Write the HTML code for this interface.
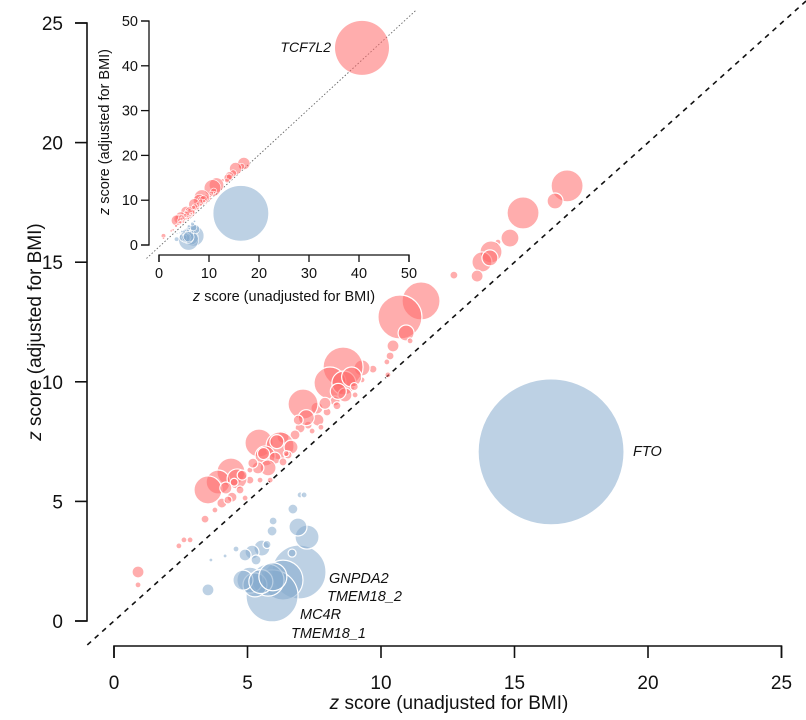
<!DOCTYPE html>
<html><head><meta charset="utf-8">
<style>
html,body{margin:0;padding:0;background:#fff;}
svg{display:block;font-family:"Liberation Sans",Arial,sans-serif;}
</style></head>
<body>
<svg id="chart" width="806" height="720" viewBox="0 0 806 720" xmlns="http://www.w3.org/2000/svg"></svg>
<script>
// ---- data ----
const redX = [16.97,16.52,15.32,14.83,14.38,14.12,13.78,14.08,13.60,12.73,11.50,10.71,10.94,11.09,10.45,10.34,10.22,9.70,9.29,8.58,8.09,8.61,8.65,8.28,7.60,7.08,7.98,7.64,7.27,7.42,6.97,6.78,6.33,5.43,6.22,6.63,5.66,6.03,5.77,5.39,6.33,6.52,5.09,5.47,4.38,3.90,3.52,4.61,4.19,4.72,4.42,4.04,4.27,3.78,3.41,2.62,2.85,2.43,0.90,0.90,5.09,4.91,5.85,9.03,9.29,10.26,8.90,8.40,7.90,7.20,6.90,6.10,5.60,5.20,4.80,4.50,6.45,7.75,8.35,9.00];
const redY = [18.19,17.56,17.06,16.01,15.84,15.43,15.01,15.18,14.42,14.46,13.38,12.71,12.04,11.71,11.50,11.08,10.83,10.53,10.58,10.62,9.95,9.95,9.45,9.20,8.90,9.07,8.74,8.40,8.19,7.94,8.07,7.78,7.69,7.44,7.32,7.27,6.90,6.81,6.40,6.40,6.65,6.94,5.89,5.89,6.23,5.81,5.48,5.94,5.56,5.48,5.18,4.93,5.06,4.64,4.26,3.39,3.39,3.14,2.05,1.51,6.31,5.14,5.89,9.45,10.08,10.29,10.20,9.60,9.10,8.50,8.40,7.50,7.00,6.60,6.10,5.80,7.00,8.10,9.00,9.80];
const redSize = [16,8,16,9,3,11,10,8,6,4,19,22,8,3,6,4,3,4,8,20,16,12,7,5,6,15,4,6,4,3,5,5,6,14,14,7,10,6,8,6,4,4,4,3,14,12,14,10,6,4,5,5,4,3,4,3,3,3,6,3,3,3,3,3,3,3,10,8,6,8,5,7,6,5,5,4,3,3,4,4];
const blueX = [16.37,6.93,6.33,5.92,5.77,5.09,5.28,4.83,3.52,7.23,6.89,6.70,6.97,7.12,5.92,5.96,5.54,5.17,4.91,5.32,5.73,4.57,4.16,3.63,6.67,5.50,5.95];
const blueY = [7.07,2.05,1.71,1.05,1.71,1.71,1.51,1.71,1.30,3.51,3.93,4.68,5.27,5.27,3.76,4.18,3.05,2.88,2.76,2.55,3.20,3.01,2.72,2.55,2.84,1.65,1.85];
const blueSize = [73,27,20,26,16,13,12,10,6,12,9,5,3,3,5,4,8,7,6,5,4,3,2,2,4,12,14];
const xTicks = [0,5,10,15,20,25];
const yTicks = [0,5,10,15,20,25];
const insetTicks = [0,10,20,30,40,50];
const tcfX = [40.6], tcfY = [44.0], tcfSize = [27];

// ---- scales ----
const X = v => 114 + v*26.7;
const Y = v => 621 - v*23.92;
const IX = v => 159 + v*5.0;
const IY = v => 245 - v*4.48;
const R = s => s;
const IR = s => s*0.38;

const svg = document.getElementById('chart');
const NS = 'http://www.w3.org/2000/svg';
function mk(tag, attrs, parent){
  const e = document.createElementNS(NS, tag);
  for (const k in attrs) e.setAttribute(k, attrs[k]);
  (parent||svg).appendChild(e); return e;
}
function txt(s, attrs, parent){ const t = mk('text', attrs, parent); t.textContent = s; return t; }

const RED = 'rgb(255,105,105)', BLUE = 'rgb(135,172,206)';

// dashed identity line
let dl = mk('line',{x1:X(-1),y1:Y(-1),x2:X(26),y2:Y(26),stroke:'#111','stroke-width':1.6,'stroke-dasharray':'5,5'});



// main bubbles
const gMain = mk('g',{});


for (let i=0;i<blueX.length;i++){
  const c = mk('circle',{cx:X(blueX[i]),cy:Y(blueY[i]),r:R(blueSize[i]),fill:BLUE,'fill-opacity':0.55,stroke:'#fff','stroke-width':1.2},gMain);
  
  
}
for (let i=0;i<redX.length;i++){
  const c = mk('circle',{cx:X(redX[i]),cy:Y(redY[i]),r:R(redSize[i]),fill:RED,'fill-opacity':0.55,stroke:'#fff','stroke-width':1.2},gMain);
  
  
}

// main axes
const ax = mk('g',{stroke:'#111','stroke-width':1.6,fill:'none'});


mk('path',{d:`M${X(0)},658 V646 H${X(25)} V658`},ax);
xTicks.forEach(t=>{ mk('line',{x1:X(t),y1:646,x2:X(t),y2:658},ax);
  const l = txt(String(t),{x:X(t),y:689,'font-size':19,'text-anchor':'middle',fill:'#111'});
  
  
});
mk('path',{d:`M75,${Y(25)} H87 V${Y(0)} H75`},ax);
yTicks.forEach(t=>{ mk('line',{x1:75,y1:Y(t),x2:87,y2:Y(t)},ax);
  const l = txt(String(t),{x:63,y:Y(t)+7,'font-size':19,'text-anchor':'end',fill:'#111'});
  
  
});
let xt = txt('',{x:449,y:709,'font-size':19,'text-anchor':'middle',fill:'#111'});
xt.innerHTML = '<tspan font-style="italic">z</tspan> score (unadjusted for BMI)';


let yt = txt('',{x:0,y:0,'font-size':19,'text-anchor':'middle',fill:'#111',transform:'translate(41,332) rotate(-90)'});
yt.innerHTML = '<tspan font-style="italic">z</tspan> score (adjusted for BMI)';



// labels
const labs = [['FTO',633,456],['GNPDA2',329,583],['TMEM18_2',327,601],['MC4R',300,619],['TMEM18_1',291,638]];
labs.forEach(l=>{ const t = txt(l[0],{x:l[1],y:l[2],'font-size':14.5,'font-style':'italic',fill:'#111'});
  
  
});

// ---- inset ----
const gi = mk('g',{});


let il = mk('line',{x1:IX(-2.5),y1:IY(-3),x2:IX(51.5),y2:IY(52.5),stroke:'#666','stroke-width':0.9,'stroke-dasharray':'1.5,2'},gi);


for (let i=0;i<blueX.length;i++){
  const c = mk('circle',{cx:IX(blueX[i]),cy:IY(blueY[i]),r:IR(blueSize[i]),fill:BLUE,'fill-opacity':0.55,stroke:'#fff','stroke-width':0.6},gi);
  
  
}
for (let i=0;i<redX.length;i++){
  const c = mk('circle',{cx:IX(redX[i]),cy:IY(redY[i]),r:IR(redSize[i]),fill:RED,'fill-opacity':0.55,stroke:'#fff','stroke-width':0.6},gi);
  
  
}
for (let i=0;i<tcfX.length;i++){
  const c = mk('circle',{cx:IX(tcfX[i]),cy:IY(tcfY[i]),r:tcfSize[i],fill:RED,'fill-opacity':0.55},gi);
  
  
}
let tl = txt('TCF7L2',{x:331,y:52,'font-size':14,'font-style':'italic','text-anchor':'end',fill:'#111'},gi);


const iax = mk('g',{stroke:'#111','stroke-width':1.3,fill:'none'},gi);
mk('path',{d:`M${IX(0)},262 V255 H${IX(50)} V262`},iax);
mk('path',{d:`M141,${IY(50)} H149 V${IY(0)} H141`},iax);
insetTicks.forEach(t=>{
  mk('line',{x1:IX(t),y1:255,x2:IX(t),y2:262},iax);
  mk('line',{x1:141,y1:IY(t),x2:149,y2:IY(t)},iax);
  const a = txt(String(t),{x:IX(t),y:278,'font-size':14.5,'text-anchor':'middle',fill:'#111'},gi);
  
  
  const b = txt(String(t),{x:138,y:IY(t)+5,'font-size':14.5,'text-anchor':'end',fill:'#111'},gi);
  
  
});
let ixt = txt('',{x:284,y:301,'font-size':14.5,'text-anchor':'middle',fill:'#111'},gi);
ixt.innerHTML = '<tspan font-style="italic">z</tspan> score (unadjusted for BMI)';


let iyt = txt('',{x:0,y:0,'font-size':14.5,'text-anchor':'middle',fill:'#111',transform:'translate(109,132) rotate(-90)'},gi);
iyt.innerHTML = '<tspan font-style="italic">z</tspan> score (adjusted for BMI)';


</script>
</body></html>
